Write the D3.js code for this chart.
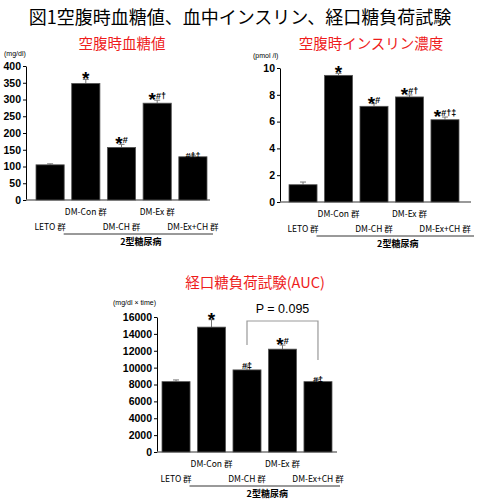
<!DOCTYPE html>
<html>
<head>
<meta charset="utf-8">
<script src="https://cdn.jsdelivr.net/npm/d3@7"></script>
<style>
  body { margin: 0; background: #fff; }
  .tick text { font-family: "Liberation Sans", Arial, sans-serif; font-weight: bold; font-size: 10.5px; fill: #000; }
  .tick line, .domain { stroke: #000; }
</style>
</head>
<body>
<svg id="fig" width="480" height="503"></svg>
<script>
// groups in the order shown
const groups = ["LETO 群", "DM-Con 群", "DM-CH 群", "DM-Ex 群", "DM-Ex+CH 群"];

// fasting blood glucose (mg/dl)
const glucose = [105, 348, 157, 289, 129];
const glucoseErr = [3, 12, 9, 9, 3];
const glucoseMarks = ["", "*", "*#", "*#†", "#†‡"];
const glucoseTicks = [0, 50, 100, 150, 200, 250, 300, 350, 400];

// fasting insulin (pmol/l)
const insulin = [1.29, 9.45, 7.14, 7.84, 6.14];
const insulinErr = [0.2, 0.15, 0.2, 0.15, 0.2];
const insulinMarks = ["", "*", "*#", "*#†", "*#†‡"];
const insulinTicks = [0, 2, 4, 6, 8, 10];

// OGTT area under curve
const auc = [8340, 14800, 9730, 12190, 8340];
const aucErr = [200, 880, 480, 480, 250];
const aucMarks = ["", "*", "#‡", "*#", "#‡"];
const aucTicks = [0, 2000, 4000, 6000, 8000, 10000, 12000, 14000, 16000];

const jpFont = "'Noto Sans CJK JP', sans-serif";
const latFont = "'Liberation Sans', Arial, sans-serif";

const svg = d3.select("#fig");

svg.append("text")
  .attr("x", 240).attr("y", 24)
  .attr("text-anchor", "middle")
  .attr("fill", "#000")
  .style("font-family", jpFont)
  .style("font-size", "18px")
  .text("図1空腹時血糖値、血中インスリン、経口糖負荷試験");

function drawPanel(cfg) {
  const g = svg.append("g");

  const x = d3.scaleBand()
    .domain(groups)
    .range([cfg.barsLeft, cfg.barsRight])
    .paddingInner(0.21)
    .paddingOuter(0);

  const y = d3.scaleLinear()
    .domain([0, cfg.max])
    .range([cfg.bottom, cfg.top]);

  // y axis
  g.append("g")
    .attr("transform", `translate(${cfg.axisX},0)`)
    .call(d3.axisLeft(y).tickValues(cfg.ticks).tickFormat(d3.format("d"))
      .tickSize(3).tickSizeOuter(0).tickPadding(2));

  // x axis line
  g.append("line")
    .attr("x1", cfg.axisX).attr("x2", cfg.axisEnd)
    .attr("y1", cfg.bottom).attr("y2", cfg.bottom)
    .attr("stroke", "#777").attr("stroke-width", 1.5);

  // error bars
  const eb = g.selectAll(".err").data(groups).join("g");
  eb.append("line")
    .attr("x1", d => x(d) + x.bandwidth() / 2)
    .attr("x2", d => x(d) + x.bandwidth() / 2)
    .attr("y1", (d, i) => y(cfg.values[i]))
    .attr("y2", (d, i) => y(cfg.values[i] + cfg.errors[i]))
    .attr("stroke", "#777");
  eb.append("line")
    .attr("x1", d => x(d) + x.bandwidth() / 2 - 3)
    .attr("x2", d => x(d) + x.bandwidth() / 2 + 3)
    .attr("y1", (d, i) => y(cfg.values[i] + cfg.errors[i]))
    .attr("y2", (d, i) => y(cfg.values[i] + cfg.errors[i]))
    .attr("stroke", "#777");

  // bars
  g.selectAll(".bar").data(groups).join("rect")
    .attr("x", d => x(d))
    .attr("width", x.bandwidth())
    .attr("y", (d, i) => y(cfg.values[i]))
    .attr("height", (d, i) => cfg.bottom - y(cfg.values[i]))
    .attr("fill", "#000")
    .attr("stroke", "#555")
    .attr("stroke-width", 0.8);

  // significance marks
  g.selectAll(".mark").data(groups).join("text")
    .attr("x", d => x(d) + x.bandwidth() / 2)
    .attr("y", (d, i) => y(cfg.values[i] + cfg.errors[i]) + 6)
    .attr("text-anchor", "middle")
    .attr("fill", "#000")
    .style("font-family", latFont)
    .style("font-weight", "bold")
    .each(function (d, i) {
      const m = cfg.marks[i];
      const t = d3.select(this);
      if (m.startsWith("*")) {
        t.append("tspan").style("font-size", "19px").text("*");
        if (m.length > 1) t.append("tspan").attr("dy", -7).style("font-size", "9px").text(m.slice(1));
      } else if (m.length) {
        t.append("tspan").attr("dy", -3).style("font-size", "9px").text(m);
      }
    });

  // group labels, two staggered rows
  g.selectAll(".lbl").data(groups).join("text")
    .attr("x", d => x(d) + x.bandwidth() / 2)
    .attr("y", (d, i) => i % 2 ? cfg.bottom + 15 : cfg.bottom + 30)
    .attr("text-anchor", "middle")
    .attr("fill", "#000")
    .style("font-family", jpFont)
    .style("font-size", "8.5px")
    .text(d => d);

  g.append("line")
    .attr("x1", x(groups[1]) - 8).attr("x2", cfg.axisEnd + 3)
    .attr("y1", cfg.bottom + 34).attr("y2", cfg.bottom + 34)
    .attr("stroke", "#000").attr("stroke-width", 0.8);

  g.append("text")
    .attr("x", (x(groups[1]) + cfg.axisEnd) / 2)
    .attr("y", cfg.bottom + 45)
    .attr("text-anchor", "middle")
    .attr("fill", "#000")
    .style("font-family", jpFont)
    .style("font-weight", "bold")
    .style("font-size", "9px")
    .text("2型糖尿病");

  // panel title and unit
  g.append("text")
    .attr("x", cfg.titleX).attr("y", cfg.titleY)
    .attr("text-anchor", "middle")
    .attr("fill", "#ee1c1c")
    .style("font-family", jpFont)
    .style("font-size", "14.5px")
    .text(cfg.title);

  g.append("text")
    .attr("x", cfg.unitX).attr("y", cfg.unitY)
    .attr("fill", "#000")
    .style("font-family", latFont)
    .style("font-size", "7px")
    .text(cfg.unit);

  return { x, y, g };
}

drawPanel({
  values: glucose, errors: glucoseErr, marks: glucoseMarks, ticks: glucoseTicks, max: 400,
  axisX: 26, axisEnd: 210, barsLeft: 36, barsRight: 207, top: 66, bottom: 200,
  title: "空腹時血糖値", titleX: 122, titleY: 49, unit: "(mg/dl)", unitX: 4, unitY: 56
});

drawPanel({
  values: insulin, errors: insulinErr, marks: insulinMarks, ticks: insulinTicks, max: 10,
  axisX: 280, axisEnd: 471, barsLeft: 289, barsRight: 459, top: 68, bottom: 202,
  title: "空腹時インスリン濃度", titleX: 371, titleY: 49, unit: "(pmol /l)", unitX: 253, unitY: 58
});

const p3 = drawPanel({
  values: auc, errors: aucErr, marks: aucMarks, ticks: aucTicks, max: 16000,
  axisX: 157, axisEnd: 337, barsLeft: 162, barsRight: 332, top: 317, bottom: 452,
  title: "経口糖負荷試験(AUC)", titleX: 255, titleY: 288, unit: "(mg/dl × time)", unitX: 113, unitY: 305
});

// bracket between DM-CH and DM-Ex+CH
const bx1 = p3.x(groups[2]) + p3.x.bandwidth() / 2;
const bx2 = p3.x(groups[4]) + p3.x.bandwidth() / 2;
p3.g.append("path")
  .attr("d", `M${bx1},345 V321 H${bx2} V360`)
  .attr("fill", "none")
  .attr("stroke", "#999")
  .attr("stroke-width", 1.2);
p3.g.append("text")
  .attr("x", (bx1 + bx2) / 2).attr("y", 313)
  .attr("text-anchor", "middle")
  .attr("fill", "#000")
  .style("font-family", latFont)
  .style("font-size", "12.5px")
  .text("P = 0.095");
</script>
</body>
</html>
